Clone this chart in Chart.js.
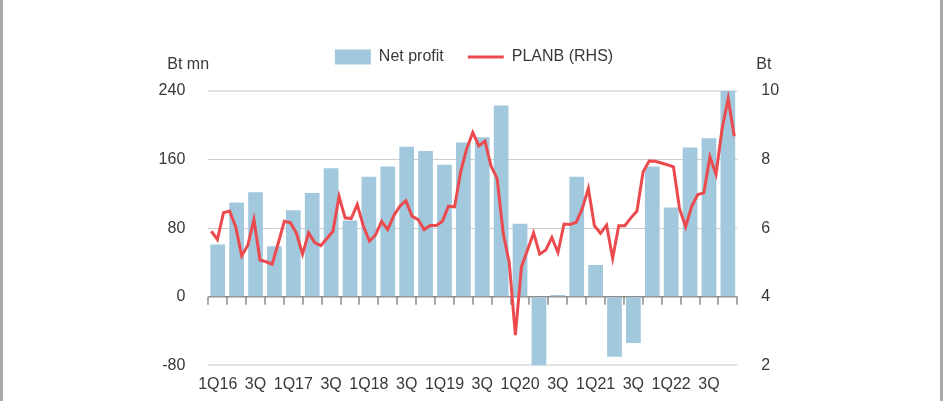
<!DOCTYPE html>
<html>
<head>
<meta charset="utf-8">
<script src="https://cdn.jsdelivr.net/npm/chart.js@4"></script>
<style>
  html, body { margin: 0; padding: 0; background: #fff; }
  #wrap { position: relative; width: 948px; height: 401px; }
  .edge { position: absolute; top: 0; width: 3px; height: 401px; background: #a9a9a9; }
</style>
</head>
<body>
<div id="wrap">
  <canvas id="chart" width="948" height="401"></canvas>
  <div class="edge" style="left:0"></div>
  <div class="edge" style="left:940px"></div>
</div>
<script>
// Quarterly net profit, Bt mn (left axis)
const quarters = [
  "1Q16", "2Q16", "3Q16", "4Q16", "1Q17", "2Q17", "3Q17", "4Q17",
  "1Q18", "2Q18", "3Q18", "4Q18", "1Q19", "2Q19", "3Q19", "4Q19",
  "1Q20", "2Q20", "3Q20", "4Q20", "1Q21", "2Q21", "3Q21", "4Q21",
  "1Q22", "2Q22", "3Q22", "4Q22",
];
const quarterTicks = [
  "1Q16", "", "3Q", "", "1Q17", "", "3Q", "", "1Q18", "", "3Q", "",
  "1Q19", "", "3Q", "", "1Q20", "", "3Q", "", "1Q21", "", "3Q", "",
  "1Q22", "", "3Q", "",
];
const netProfit = [
  61, 110, 122, 59, 101, 121, 150, 89,
  140, 152, 175, 170, 154, 180, 186, 223,
  85, -81, 2, 140, 37, -70, -54, 152,
  104, 174, 185, 240,
];

// Monthly PLANB share price, Bt (right axis)
const planbPrice = [
  5.91, 5.67, 6.45, 6.50, 6.04, 5.19, 5.50, 6.25, 5.07, 5.02,
  4.95, 5.56, 6.20, 6.16, 5.85, 5.24, 5.86, 5.58, 5.49, 5.70,
  5.91, 6.93, 6.30, 6.28, 6.69, 6.06, 5.62, 5.80, 6.20, 5.96,
  6.36, 6.64, 6.80, 6.35, 6.25, 5.96, 6.08, 6.08, 6.20, 6.64,
  6.62, 7.64, 8.32, 8.79, 8.40, 8.54, 7.81, 7.45, 5.85, 4.99,
  2.88, 4.87, 5.36, 5.86, 5.24, 5.36, 5.73, 5.29, 6.12, 6.11,
  6.17, 6.57, 7.16, 6.07, 5.85, 6.09, 5.12, 6.07, 6.07, 6.30,
  6.50, 7.64, 7.96, 7.95, 7.90, 7.85, 7.79, 6.57, 6.04, 6.64,
  6.98, 7.03, 8.08, 7.57, 8.90, 9.78, 8.68,
];
const months = planbPrice.map((_, i) => "m" + i);

const fontColor = "#383838";
const fontFamily = "'Liberation Sans', Arial, sans-serif";

// extra room between the legend and the plot
const legendGap = {
  id: "legendGap",
  beforeLayout(chart) {
    const legend = chart.legend;
    if (legend && !legend._gapPatched) {
      const fit = legend.fit;
      legend.fit = function () {
        fit.call(this);
        this.height += 16;
      };
      legend._gapPatched = true;
    }
  },
};

// zero line with tick marks at the quarter boundaries, plus the unit labels
const axisExtras = {
  id: "axisExtras",
  beforeDatasetsDraw(chart) {
    const { ctx, chartArea, scales } = chart;
    const y0 = scales.y.getPixelForValue(0);
    const step = scales.x.getPixelForValue(1) - scales.x.getPixelForValue(0);
    ctx.save();
    ctx.strokeStyle = "#8c8c8c";
    ctx.lineWidth = 1.5;
    ctx.beginPath();
    ctx.moveTo(chartArea.left, y0);
    ctx.lineTo(chartArea.right, y0);
    for (let i = 0; i <= quarters.length; i++) {
      const x = Math.round(scales.x.getPixelForValue(0) - step / 2 + i * step);
      ctx.moveTo(x, y0);
      ctx.lineTo(x, y0 + 8);
    }
    ctx.stroke();
    ctx.restore();
  },
  afterDraw(chart) {
    const { ctx, chartArea } = chart;
    ctx.save();
    ctx.fillStyle = fontColor;
    ctx.font = "16px " + fontFamily;
    ctx.textBaseline = "middle";
    ctx.textAlign = "left";
    ctx.fillText("Bt mn", chartArea.left - 41, chartArea.top - 26);
    ctx.fillText("Bt", chartArea.right + 19, chartArea.top - 26);
    ctx.restore();
  },
};

new Chart(document.getElementById("chart"), {
  type: "bar",
  data: {
    labels: quarters,
    datasets: [
      {
        type: "bar",
        label: "Net profit",
        data: netProfit,
        backgroundColor: "#a2c8dd",
        borderWidth: 0,
        grouped: false,
        barPercentage: 0.78,
        categoryPercentage: 1,
        yAxisID: "y",
        xAxisID: "x",
        order: 2,
      },
      {
        type: "line",
        label: "PLANB (RHS)",
        data: planbPrice,
        borderColor: "#eb4a4e",
        backgroundColor: "#eb4a4e",
        borderWidth: 3,
        pointRadius: 0,
        tension: 0,
        yAxisID: "y1",
        xAxisID: "x2",
        order: 1,
      },
    ],
  },
  options: {
    responsive: false,
    animation: false,
    layout: { padding: { top: 25, left: 0, right: 0, bottom: 0 } },
    plugins: {
      tooltip: { enabled: false },
      legend: {
        position: "top",
        align: "center",
        labels: {
          color: fontColor,
          font: { size: 16, family: fontFamily },
          usePointStyle: true,
          pointStyleWidth: 36,
          boxHeight: 15,
          padding: 24,
          sort: (a, b) => a.datasetIndex - b.datasetIndex,
          generateLabels: (chart) => {
            const items = Chart.defaults.plugins.legend.labels.generateLabels(chart);
            items.forEach((item) => {
              if (item.datasetIndex === 0) {
                item.pointStyle = "rect";
                item.lineWidth = 0;
              } else {
                item.pointStyle = "line";
                item.lineWidth = 3;
              }
            });
            return items;
          },
        },
      },
    },
    scales: {
      x: {
        type: "category",
        offset: true,
        grid: { display: false, drawTicks: false },
        border: { display: false },
        ticks: {
          autoSkip: false,
          maxRotation: 0,
          padding: 10,
          color: fontColor,
          font: { size: 16, family: fontFamily },
          callback: (value, index) => quarterTicks[index],
        },
        afterFit: (scale) => { scale.height = 35.7; },
      },
      x2: {
        type: "category",
        labels: months,
        offset: true,
        display: false,
      },
      y: {
        position: "left",
        min: -80,
        max: 240,
        border: { display: false },
        grid: {
          drawTicks: false,
          color: (c) => (c.tick.value === 0 ? "rgba(0,0,0,0)" :
            (c.tick.value === 240 || c.tick.value === -80) ? "#e3e3e3" : "#cccccc"),
          lineWidth: (c) => (c.tick.value === 240 || c.tick.value === -80) ? 2 : 1,
        },
        ticks: {
          stepSize: 80,
          padding: 23,
          color: fontColor,
          font: { size: 16, family: fontFamily },
        },
        afterFit: (scale) => { scale.width = 208.3; },
      },
      y1: {
        position: "right",
        min: 2,
        max: 10,
        border: { display: false },
        grid: { display: false, drawTicks: false },
        ticks: {
          stepSize: 2,
          padding: 24,
          color: fontColor,
          font: { size: 16, family: fontFamily },
        },
        afterFit: (scale) => { scale.width = 210.7; },
      },
    },
  },
  plugins: [legendGap, axisExtras],
});
</script>
</body>
</html>
